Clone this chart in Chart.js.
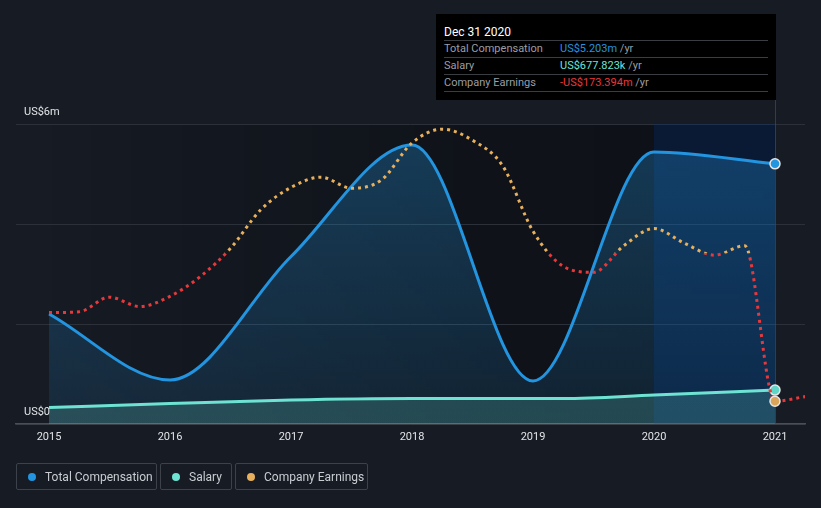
<!DOCTYPE html>
<html>
<head>
<meta charset="utf-8">
<script src="https://cdn.jsdelivr.net/npm/chart.js@4.4.1/dist/chart.umd.min.js"></script>
<style>
  html, body { margin: 0; padding: 0; background: #161b24; }
  body { width: 821px; height: 508px; position: relative; overflow: hidden; font-family: Roboto, "Noto Sans", sans-serif; }
  #wrap { position: absolute; left: 0; top: 0; width: 821px; height: 508px; }
  .tip { position: absolute; left: 436px; top: 14px; width: 340px; height: 86px; background: #000; font-size: 11px; }
  .tip .title { position: absolute; left: 8px; top: 18px; color: #fff; font-size: 12px; font-weight: 400; line-height: 14px; transform: translateY(-7px); }
  .tip .row { position: absolute; left: 8px; width: 324px; height: 17px; border-top: 1px solid #3a3d42; line-height: 16px; color: #9a9ea5; }
  .tip .row span.v { position: absolute; left: 116px; }
  .tip .row span.u { color: #9a9ea5; }
  .tip .last { position: absolute; left: 8px; width: 324px; top: 77px; border-top: 1px solid #3a3d42; }
  .legend { position: absolute; top: 463px; height: 27px; border: 1px solid #3d424a; border-radius: 2px; box-sizing: border-box; color: #c9ccd1; font-size: 12px; line-height: 26px; }
  .legend i { position: absolute; left: 11px; top: 9px; width: 8px; height: 8px; border-radius: 50%; }
  .legend span { position: absolute; left: 28px; white-space: nowrap; }
</style>
</head>
<body>
<div id="wrap"><canvas id="chart" width="821" height="508"></canvas></div>

<div class="tip">
  <div class="title">Dec 31 2020</div>
  <div class="row" style="top:26px">Total Compensation<span class="v"><span style="color:#2394df">US$5.203m</span> <span class="u">/yr</span></span></div>
  <div class="row" style="top:43px">Salary<span class="v"><span style="color:#6ee3d3">US$677.823k</span> <span class="u">/yr</span></span></div>
  <div class="row" style="top:60px">Company Earnings<span class="v"><span style="color:#e8383b">-US$173.394m</span> <span class="u">/yr</span></span></div>
  <div class="last"></div>
</div>

<div class="legend" style="left:16px;width:141px"><i style="background:#2394df"></i><span>Total Compensation</span></div>
<div class="legend" style="left:160px;width:72px"><i style="background:#6ee3d3"></i><span>Salary</span></div>
<div class="legend" style="left:235px;width:133px"><i style="background:#e8b05c"></i><span>Company Earnings</span></div>

<script>
// Total compensation and salary, one point per year (US$ m)
const years = [2015, 2016, 2017, 2018, 2019, 2020, 2021];
const totalComp = [2.2, 0.88, 3.35, 5.58, 0.86, 5.44, 5.203];
const salaryYears = [2015, 2016, 2017, 2018, 2019, 2019.25, 2020, 2021];
const salary = [0.33, 0.41, 0.48, 0.51, 0.51, 0.51, 0.58, 0.678];

// Company earnings, quarterly (US$ m)
const earnYears = [
  2015, 2015.25, 2015.5, 2015.75, 2016, 2016.25, 2016.5, 2016.75,
  2017, 2017.25, 2017.5, 2017.75, 2018, 2018.25, 2018.5, 2018.75,
  2019, 2019.25, 2019.5, 2019.75, 2020, 2020.25, 2020.5, 2020.75,
  2021, 2021.25,
];
const earnings = [
  -70, -69, -52, -63, -51, -28, 5, 50,
  76, 88, 75, 85, 128, 144, 131, 101,
  25, -16, -23, 8, 28, 11, -3, 8,
  -173.394, -168,
];

const yTicks = [0, 6];
const tickText = { 0: "US$0", 6: "US$6m" };
const highlightFrom = 2020;
const highlightTo = 2021;

const BLUE = "#2394df";
const TEAL = "#6ee3d3";
const GOLD = "#e8b05c";
const RED = "#e8383b";

function pairs(xs, ys) {
  return xs.map(function (x, i) {
    return { x: x, y: ys[i] };
  });
}

function earningsColor(context) {
  const chart = context.chart;
  const area = chart.chartArea;
  if (!area) return GOLD;
  const zero = chart.scales.yEarn.getPixelForValue(0);
  let f = (zero - area.top) / (area.bottom - area.top);
  f = Math.max(0, Math.min(1, f));
  const g = chart.ctx.createLinearGradient(0, area.top, 0, area.bottom);
  g.addColorStop(0, GOLD);
  g.addColorStop(f, GOLD);
  g.addColorStop(f, RED);
  g.addColorStop(1, RED);
  return g;
}

function vFill(top, bottom) {
  return function (context) {
    const area = context.chart.chartArea;
    if (!area) return bottom;
    const g = context.chart.ctx.createLinearGradient(0, area.top, 0, area.bottom);
    g.addColorStop(0, top);
    g.addColorStop(1, bottom);
    return g;
  };
}

function endPoint(r) {
  return function (context) {
    return context.raw && context.raw.x === 2021 ? r : 0;
  };
}

// darker plot background + highlight band
const backdrop = {
  id: "backdrop",
  beforeDraw: function (chart) {
    const ctx = chart.ctx;
    const area = chart.chartArea;
    const x = chart.scales.x;
    const x0 = x.getPixelForValue(2015);
    const x1 = x.getPixelForValue(2021);
    const g = ctx.createLinearGradient(x0, 0, x1, 0);
    g.addColorStop(0, "rgba(0,0,0,0)");
    g.addColorStop(0.6, "rgba(0,0,0,0.3)");
    g.addColorStop(1, "rgba(0,0,0,0.35)");
    ctx.save();
    ctx.fillStyle = g;
    ctx.fillRect(x0, area.top, x1 - x0, area.bottom - area.top);
    ctx.restore();
  },
  beforeDatasetsDraw: function (chart) {
    const ctx = chart.ctx;
    const area = chart.chartArea;
    const x = chart.scales.x;
    const b0 = x.getPixelForValue(highlightFrom);
    const b1 = x.getPixelForValue(highlightTo);
    ctx.save();
    ctx.fillStyle = "rgba(0,45,120,0.3)";
    ctx.fillRect(b0, area.top, b1 - b0, area.bottom - area.top);
    ctx.strokeStyle = "rgba(40,80,130,0.7)";
    ctx.lineWidth = 1;
    ctx.beginPath();
    ctx.moveTo(Math.round(b1) + 0.5, 100);
    ctx.lineTo(Math.round(b1) + 0.5, area.bottom);
    ctx.stroke();
    ctx.restore();
  },
};

new Chart(document.getElementById("chart"), {
  type: "line",
  data: {
    datasets: [
      {
        label: "Company Earnings",
        data: pairs(earnYears, earnings),
        yAxisID: "yEarn",
        borderColor: earningsColor,
        borderWidth: 3,
        borderDash: [3, 4],
        cubicInterpolationMode: "monotone",
        fill: false,
        pointRadius: endPoint(5),
        pointBackgroundColor: "#d9a55a",
        pointBorderColor: "#e6e6e6",
        pointBorderWidth: 1.5,
        order: 0,
      },
      {
        label: "Salary",
        data: pairs(salaryYears, salary),
        yAxisID: "y",
        borderColor: TEAL,
        borderWidth: 3,
        cubicInterpolationMode: "monotone",
        fill: "origin",
        backgroundColor: vFill("rgba(110,227,211,0.16)", "rgba(110,227,211,0.2)"),
        pointRadius: endPoint(5),
        pointBackgroundColor: "#5fd6c8",
        pointBorderColor: "#e6e6e6",
        pointBorderWidth: 1.5,
        order: 1,
      },
      {
        label: "Total Compensation",
        data: pairs(years, totalComp),
        yAxisID: "y",
        borderColor: BLUE,
        borderWidth: 3,
        cubicInterpolationMode: "monotone",
        fill: "origin",
        backgroundColor: vFill("rgba(35,148,223,0.32)", "rgba(35,148,223,0.12)"),
        pointRadius: endPoint(5),
        pointBackgroundColor: BLUE,
        pointBorderColor: "#e6e6e6",
        pointBorderWidth: 1.5,
        order: 2,
      },
    ],
  },
  options: {
    responsive: false,
    animation: false,
    layout: { padding: { left: 16, right: 16, top: 124, bottom: 0 } },
    plugins: {
      legend: { display: false },
      tooltip: { enabled: false },
    },
    scales: {
      x: {
        type: "linear",
        min: 2014.727,
        max: 2021.248,
        afterFit: function (s) { s.height = 84; },
        afterBuildTicks: function (s) {
          s.ticks = years.map(function (v) { return { value: v }; });
        },
        grid: { display: false, drawTicks: false },
        border: { display: true, color: "#4a4f57", width: 1.5 },
        ticks: {
          color: "#e2e4e7",
          font: { family: "Roboto", size: 11 },
          padding: 7,
          maxRotation: 0,
          callback: function (v) { return String(v); },
        },
      },
      y: {
        min: 0,
        max: 6,
        afterFit: function (s) { s.width = 0; },
        afterBuildTicks: function (s) {
          s.ticks = [0, 2, 4, 6].map(function (v) { return { value: v }; });
        },
        grid: { color: "#2c3139", lineWidth: 1, drawTicks: false },
        border: { display: false },
        ticks: {
          mirror: true,
          padding: 8,
          labelOffset: -12,
          color: "#e2e4e7",
          font: { family: "Roboto", size: 11 },
          callback: function (v) {
            return yTicks.indexOf(v) >= 0 ? tickText[v] : "";
          },
        },
      },
      yEarn: {
        display: false,
        min: -200,
        max: 150,
      },
    },
  },
  plugins: [backdrop],
});
</script>
</body>
</html>
